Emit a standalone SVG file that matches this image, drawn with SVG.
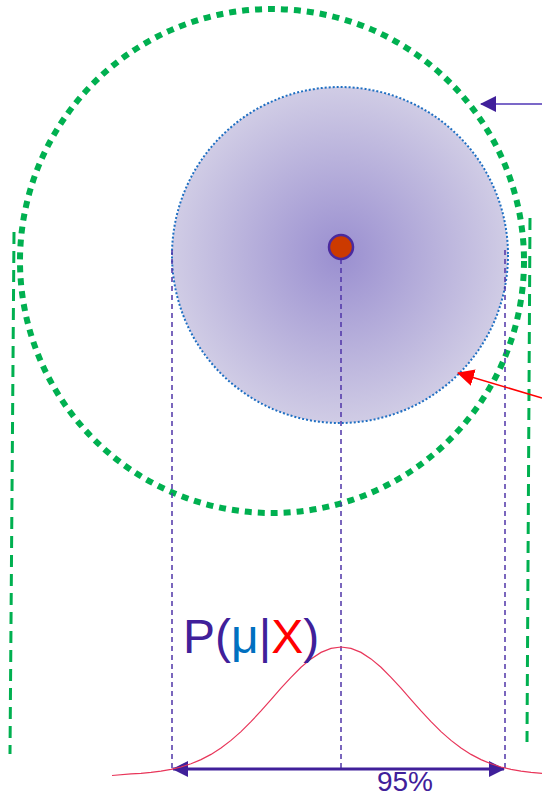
<svg xmlns="http://www.w3.org/2000/svg" width="542" height="794" viewBox="0 0 542 794">
  <defs>
    <radialGradient id="cloud" cx="0.5" cy="0.5" r="0.5">
      <stop offset="0" stop-color="#9a8fd0"/>
      <stop offset="1" stop-color="#d0cce5"/>
    </radialGradient>
    <marker id="ahPurple" viewBox="0 0 16 16" refX="15" refY="8" markerWidth="16" markerHeight="16" markerUnits="userSpaceOnUse" orient="auto-start-reverse">
      <path d="M0,0 L16,8 L0,16 Z" fill="#40209a"/>
    </marker>
    <marker id="ahRed" viewBox="0 0 16 16" refX="15" refY="8" markerWidth="17" markerHeight="17" markerUnits="userSpaceOnUse" orient="auto">
      <path d="M0,0 L16,8 L0,16 Z" fill="#ff0000"/>
    </marker>
  </defs>
  <style>
    .vguide { stroke: #4f34a8; stroke-width: 1.5; stroke-dasharray: 5 4; fill: none; }
    .gguide { stroke: #00b050; stroke-width: 3; stroke-dasharray: 12 7; fill: none; }
    .lbl { font-family: "Liberation Sans", Arial, sans-serif; }
  </style>

  <g id="outer-circle">
    <circle cx="272" cy="261" r="252" fill="none" stroke="#00b050" stroke-width="6" stroke-dasharray="7 6"/>
  </g>

  <g id="posterior-cloud">
    <circle cx="340" cy="255" r="168" fill="url(#cloud)" stroke="#1f6fc2" stroke-width="2" stroke-dasharray="2 2"/>
  </g>

  <g id="connectors">
    <line class="vguide" x1="172" y1="250" x2="172" y2="769"/>
    <line class="vguide" x1="341" y1="250" x2="341" y2="769"/>
    <line class="vguide" x1="505" y1="250" x2="505" y2="769"/>
    <line class="gguide" x1="14" y1="232" x2="10" y2="754"/>
    <line class="gguide" x1="530" y1="218" x2="527" y2="742"/>
    <line x1="542" y1="104" x2="481" y2="104" stroke="#7b68c8" stroke-width="2" marker-end="url(#ahPurple)"/>
    <line x1="542" y1="398" x2="458" y2="373" stroke="#ff0000" stroke-width="1.5" marker-end="url(#ahRed)"/>
    <line x1="173" y1="769" x2="504" y2="769" stroke="#40209a" stroke-width="3" marker-start="url(#ahPurple)" marker-end="url(#ahPurple)"/>
  </g>

  <g id="center-dot">
    <circle cx="341" cy="247" r="12" fill="#cc3a00" stroke="#4a2a9e" stroke-width="2.5"/>
  </g>

  <g id="bell-curve">
    <polyline fill="none" stroke="#e8365a" stroke-width="1.2" points="112,775.5 131,773.9 141,773.3 151,772.4 161,771.1 171,769.4 181,767.0 191,763.8 201,759.6 211,754.4 221,748.0 231,740.4 241,731.6 251,721.7 261,710.9 271,699.6 281,688.2 291,677.3 301,667.3 311,658.9 321,652.4 331,648.4 341,647 351,648.4 361,652.4 371,658.9 381,667.3 391,677.3 401,688.2 411,699.6 421,710.9 431,721.7 441,731.6 451,740.4 461,748.0 471,754.4 481,759.6 491,763.8 501,767.0 511,769.4 521,771.1 531,772.4 542,773.4"/>
  </g>

  <g id="label-posterior">
    <text class="lbl" x="183" y="653" font-size="48" fill="#40209a">P(<tspan fill="#0070c0">μ</tspan>|<tspan fill="#ff0000">X</tspan>)</text>
  </g>

  <g id="label-95">
    <text class="lbl" x="405" y="791" font-size="28" fill="#40209a" text-anchor="middle">95%</text>
  </g>
</svg>
